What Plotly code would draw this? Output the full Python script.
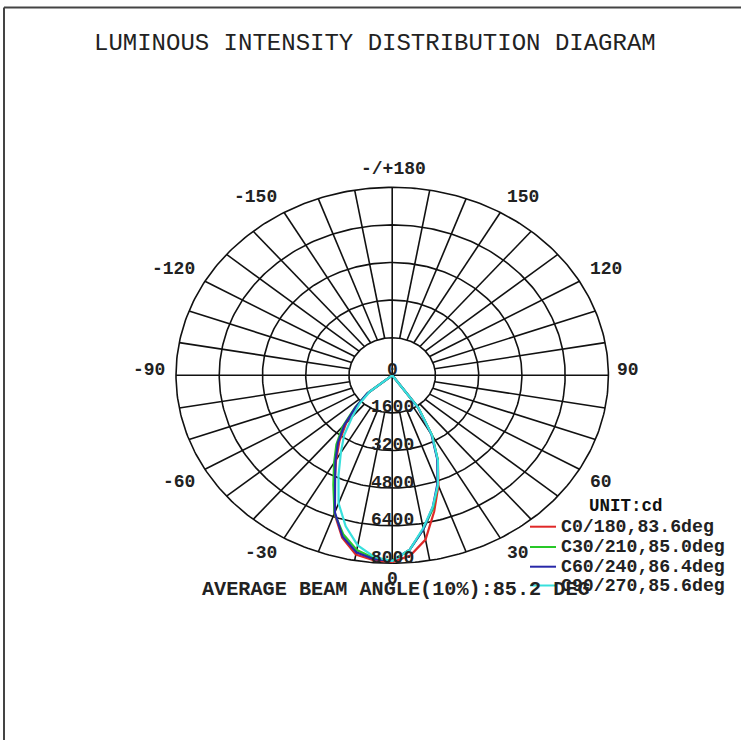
import numpy as np
import plotly.graph_objects as go

# ---------------- data ----------------
TITLE = "LUMINOUS INTENSITY DISTRIBUTION DIAGRAM"
BEAM_TEXT = "AVERAGE BEAM ANGLE(10%):85.2 DEG"
UNIT_TEXT = "UNIT:cd"

gamma = [0, 5, 10, 15, 20, 25, 30, 35, 40, 45, 50, 55, 60, 65, 70, 75, 80, 85, 90]

# right half-planes (C0, C30, C60, C90), intensity in cd
c0   = [7950, 7700, 7100, 6000, 5000, 4000, 2950, 1650, 200, 0, 0, 0, 0, 0, 0, 0, 0, 0, 0]
c30  = [7900, 7450, 6650, 5850, 4950, 4000, 2950, 1700, 250, 0, 0, 0, 0, 0, 0, 0, 0, 0, 0]
c60  = [7900, 7450, 6650, 5800, 4900, 3950, 2900, 1650, 200, 0, 0, 0, 0, 0, 0, 0, 0, 0, 0]
c90  = [7900, 7450, 6600, 5800, 4950, 4000, 2950, 1700, 250, 0, 0, 0, 0, 0, 0, 0, 0, 0, 0]
# left half-planes (C180, C210, C240, C270)
c180 = [7950, 7900, 7750, 7150, 6250, 5050, 4150, 3400, 2650, 1850, 1150, 0, 0, 0, 0, 0, 0, 0, 0]
c210 = [7900, 7800, 7550, 7000, 6250, 5150, 4300, 3600, 2850, 1950, 1200, 0, 0, 0, 0, 0, 0, 0, 0]
c240 = [7900, 7850, 7650, 7100, 6200, 5000, 4200, 3500, 2750, 1900, 1200, 0, 0, 0, 0, 0, 0, 0, 0]
c270 = [7900, 7750, 7350, 6650, 5800, 4700, 3800, 3100, 2300, 1700, 1100, 0, 0, 0, 0, 0, 0, 0, 0]

series_names = ["C0/180,83.6deg", "C30/210,85.0deg", "C60/240,86.4deg", "C90/270,85.6deg"]
series_right = [c0, c30, c60, c90]
series_left = [c180, c210, c240, c270]
series_colors = ["#e02828", "#28c828", "#2828a8", "#38e0dc"]

ring_values = [1600, 3200, 4800, 6400, 8000]
ring_labels = ["0", "1600", "3200", "4800", "6400", "8000"]
angle_labels = ["-/+180", "150", "-150", "120", "-120", "90", "-90", "60", "-60", "30", "-30", "0"]

# ---------------- geometry (pixels) ----------------
W, H = 741, 740
CX, CY = 392.2, 375.3        # pixel centre of the diagram
RX, RY = 216.2, 188.0        # pixel radii of the outer ring
RMAX = ring_values[-1]
kx = RMAX / RX
ky = RMAX / RY
x_range = [-CX * kx, (W - CX) * kx]
y_range = [-(H - CY) * ky, CY * ky]


def px(x):
    return x / W


def py(y):
    return 1 - y / H


FONT = "Courier New, Liberation Mono, monospace"

fig = go.Figure()

# ---------------- grid ----------------
gx, gy = [], []
t = np.linspace(0, 2 * np.pi, 361)
for r in ring_values:
    gx += list(r * np.sin(t)) + [None]
    gy += list(r * np.cos(t)) + [None]
for a in range(0, 360, 10):
    ar = np.radians(a)
    if a % 90 == 0:
        continue
    gx += [ring_values[0] * np.sin(ar), RMAX * np.sin(ar), None]
    gy += [ring_values[0] * np.cos(ar), RMAX * np.cos(ar), None]
gx += [-RMAX, RMAX, None, 0, 0, None]
gy += [0, 0, None, -RMAX, RMAX, None]
fig.add_trace(go.Scatter(x=gx, y=gy, mode="lines", line=dict(color="#111111", width=1.6),
                         hoverinfo="skip", showlegend=False))

# ---------------- curves ----------------
g = np.radians(np.array(gamma, dtype=float))
for name, rvals, lvals, col in zip(series_names, series_right, series_left, series_colors):
    rv = np.array(rvals, dtype=float)
    lv = np.array(lvals, dtype=float)
    theta = np.concatenate([-g[::-1], g[1:]])
    inten = np.concatenate([lv[::-1], rv[1:]])
    fig.add_trace(go.Scatter(x=inten * np.sin(theta), y=-inten * np.cos(theta), mode="lines",
                             name=name, line=dict(color=col, width=2.2), showlegend=False))

# ---------------- texts ----------------
ann = []
ann.append(dict(x=px(375), y=py(43.5), text=TITLE, font=dict(size=24, family=FONT, color="#222222")))

# ring labels (slightly above the ring crossing on the 0-axis)
ring_label_y = [370, 407, 445, 483, 520, 558]
for lab, yy in zip(ring_labels, ring_label_y):
    ann.append(dict(x=px(392), y=py(yy), text="<b>%s</b>" % lab,
                    font=dict(size=18, family=FONT, color="#222222")))

angle_pos = [(393, 169.5, "center"), (505, 197, "left"), (278.5, 197, "right"),
             (587.5, 268.5, "left"), (197, 268.5, "right"), (615, 370, "left"),
             (166.5, 370, "right"), (587.5, 482, "left"), (197, 482, "right"),
             (505, 553, "left"), (278.5, 553, "right"), (392.5, 578.5, "center")]
for lab, (xx, yy, anc) in zip(angle_labels, angle_pos):
    ann.append(dict(x=px(xx), y=py(yy), text="<b>%s</b>" % lab, xanchor=anc,
                    font=dict(size=18, family=FONT, color="#222222")))

ann.append(dict(x=px(395.5), y=py(589), text="<b>%s</b>" % BEAM_TEXT,
                font=dict(size=20.2, family=FONT, color="#222222")))

# legend (manual)
ann.append(dict(x=px(626), y=py(506.5), text="<b>%s</b>" % UNIT_TEXT,
                font=dict(size=17.5, family=FONT, color="#111111")))
leg_y = [526.7, 547.0, 566.7, 585.5]
shapes = []
for name, col, yy in zip(series_names, series_colors, leg_y):
    shapes.append(dict(type="line", xref="paper", yref="paper", x0=px(530), x1=px(556),
                       y0=py(yy), y1=py(yy), line=dict(color=col, width=2)))
    ann.append(dict(x=px(559), y=py(yy), text="<b>%s</b>" % name, xanchor="left",
                    font=dict(size=18.2, family=FONT, color="#222222")))

# frame lines (top and left)
shapes.append(dict(type="line", xref="paper", yref="paper", x0=px(4), x1=1, y0=py(7.5), y1=py(7.5),
                   line=dict(color="#444444", width=2)))
shapes.append(dict(type="line", xref="paper", yref="paper", x0=px(4), x1=px(4), y0=py(7.5), y1=0,
                   line=dict(color="#444444", width=2)))

for a in ann:
    a.update(xref="paper", yref="paper", showarrow=False)
    a.setdefault("xanchor", "center")
    a.setdefault("yanchor", "middle")

fig.update_layout(
    width=W, height=H, autosize=False,
    margin=dict(l=0, r=0, t=0, b=0),
    paper_bgcolor="white", plot_bgcolor="white",
    xaxis=dict(range=x_range, visible=False, fixedrange=True),
    yaxis=dict(range=y_range, visible=False, fixedrange=True),
    annotations=ann, shapes=shapes, showlegend=False,
)

fig.write_html("out.html", config={"displayModeBar": False},
               post_script="document.body.style.margin='0px';document.body.style.padding='0px';"
                           "document.body.style.overflow='hidden';")
